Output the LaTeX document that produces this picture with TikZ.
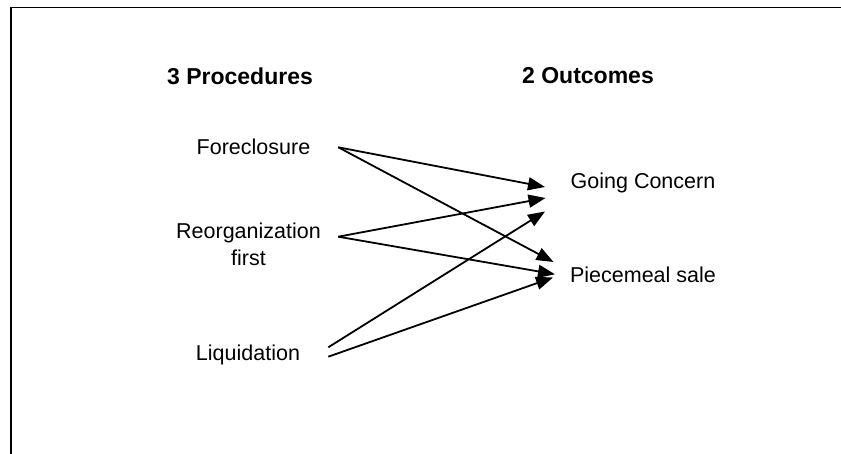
\documentclass[tikz,border=0pt]{standalone}
\usepackage{fontspec}
\setmainfont{Liberation Sans}
\usetikzlibrary{arrows.meta}
\begin{document}
\begin{tikzpicture}[x=1pt,y=-1pt,
  lbl/.style={inner sep=0pt,font=\fontsize{21.5}{27.5}\selectfont,align=center},
  head/.style={inner sep=0pt,font=\fontsize{23}{27}\selectfont\bfseries},
  conn/.style={line width=1.8pt,-{Triangle[length=17pt,width=13pt]}},
  frame/.style={line width=1.4pt,draw=black}]
\useasboundingbox (0,0) rectangle (841,454);
\draw[frame] (11,454) -- (11,7.5) -- (841,7.5);
% headings
\node[head] (hp) at (240,76) {3 Procedures};
\node[head] (ho) at (588,76) {2 Outcomes};
% procedures
\node[lbl] (fore) at (253.5,146.7) {Foreclosure};
\node[lbl] (reorg) at (248.5,244.3) {Reorganization\\first};
\node[lbl] (liq) at (248,354.5) {Liquidation};
% outcomes
\node[lbl] (going) at (643,183) {Going Concern};
\node[lbl] (piece) at (643,274.5) {Piecemeal sale};
% connector endpoints
\coordinate (foreS) at (338.3,147.3);
\coordinate (reorgS) at (338.3,236.7);
\coordinate (liqS1) at (328.3,347.3);
\coordinate (liqS2) at (328.3,356.7);
\coordinate (goingT1) at (545,187);
\coordinate (goingT2) at (545.5,198);
\coordinate (goingT3) at (545,211.5);
\coordinate (pieceT1) at (553.5,262);
\coordinate (pieceT2) at (555,274.3);
\coordinate (pieceT3) at (553,277.5);
% connectors
\draw[conn] (foreS) -- (goingT1);
\draw[conn] (foreS) -- (pieceT1);
\draw[conn] (reorgS) -- (goingT2);
\draw[conn] (reorgS) -- (pieceT2);
\draw[conn] (liqS1) -- (goingT3);
\draw[conn] (liqS2) -- (pieceT3);
\end{tikzpicture}
\end{document}
